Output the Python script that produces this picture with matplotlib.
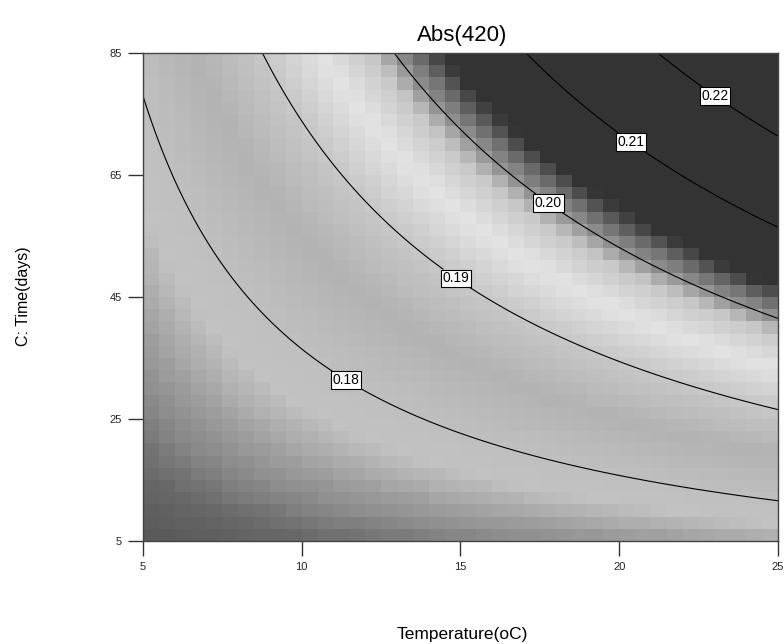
import numpy as np
import matplotlib
matplotlib.use("Agg")
import matplotlib.pyplot as plt
from matplotlib.colors import LinearSegmentedColormap, Normalize

plt.rcParams['font.family'] = ['Liberation Sans', 'DejaVu Sans']

# response model: Abs = b0 + bT*T + bt*t + bTt*T*t
b0 = 0.1689
bT = 1.338e-4
bt = 0.0
bTt = 2.676e-5

contour_levels = [0.18, 0.19, 0.20, 0.21, 0.22]
label_spots = [(11.5, 32.2), (14.9, 48.4), (17.8, 60.6), (20.4, 70.6), (23.1, 78.6)]

x_ticks = [5, 10, 15, 20, 25]
y_ticks = [5, 25, 45, 65, 85]

# gray shading used by the chart (response value -> gray level)
shade_vals = [0.165, 0.1704, 0.1717, 0.1734, 0.1765, 0.1775, 0.180, 0.185,
              0.190, 0.1945, 0.1982, 0.200, 0.2013, 0.2035, 0.215]
shade_gray = [0.33, 0.35, 0.41, 0.54, 0.71, 0.76, 0.75, 0.70,
              0.78, 0.89, 0.78, 0.57, 0.46, 0.20, 0.20]


def model(T, t):
    return b0 + bT * T + bt * t + bTt * T * t


vmin, vmax = shade_vals[0], shade_vals[-1]
stops = [((v - vmin) / (vmax - vmin), (g, g, g)) for v, g in zip(shade_vals, shade_gray)]
cmap = LinearSegmentedColormap.from_list("abs_gray", stops)

fig = plt.figure(figsize=(7.84, 6.44), dpi=100)
ax = fig.add_axes([0.1824, 0.160, 0.8099, 0.7577])

# coarse cells for the background
xe = np.linspace(5, 25, 41)
ye = np.linspace(5, 85, 41)
xc = (xe[:-1] + xe[1:]) / 2
yc = (ye[:-1] + ye[1:]) / 2
XC, YC = np.meshgrid(xc, yc)
ax.pcolormesh(xe, ye, model(XC, YC), cmap=cmap, norm=Normalize(vmin, vmax),
              shading='flat')

# fine grid for the contour lines
xf = np.linspace(5, 25, 300)
yf = np.linspace(5, 85, 300)
XF, YF = np.meshgrid(xf, yf)
cs = ax.contour(XF, YF, model(XF, YF), levels=contour_levels, colors='black',
                linewidths=0.8)
labels = ax.clabel(cs, fmt='%.2f', fontsize=10, inline=True, inline_spacing=2,
                   manual=label_spots)
for lab in labels:
    lab.set_rotation(0)
    lab.set_bbox(dict(boxstyle='square,pad=0.12', fc='white', ec='black', lw=0.8))

ax.set_xlim(5, 25)
ax.set_ylim(5, 85)
ax.set_xticks(x_ticks)
ax.set_yticks(y_ticks)
ax.tick_params(direction='out', length=11, width=1.0, color='#333333',
               labelsize=8, labelcolor='#222222', pad=4)
for sp in ax.spines.values():
    sp.set_color('#444444')
    sp.set_linewidth(1.0)

fig.text(0.59, 0.945, 'Abs(420)', ha='center', va='center', fontsize=16)
fig.text(0.59, 0.015, 'Temperature(oC)', ha='center', va='center', fontsize=12.5)
fig.text(0.03, 0.54, 'C: Time(days)', ha='center', va='center', fontsize=11.5,
         rotation=90)

fig.savefig('out.png', dpi=100)
